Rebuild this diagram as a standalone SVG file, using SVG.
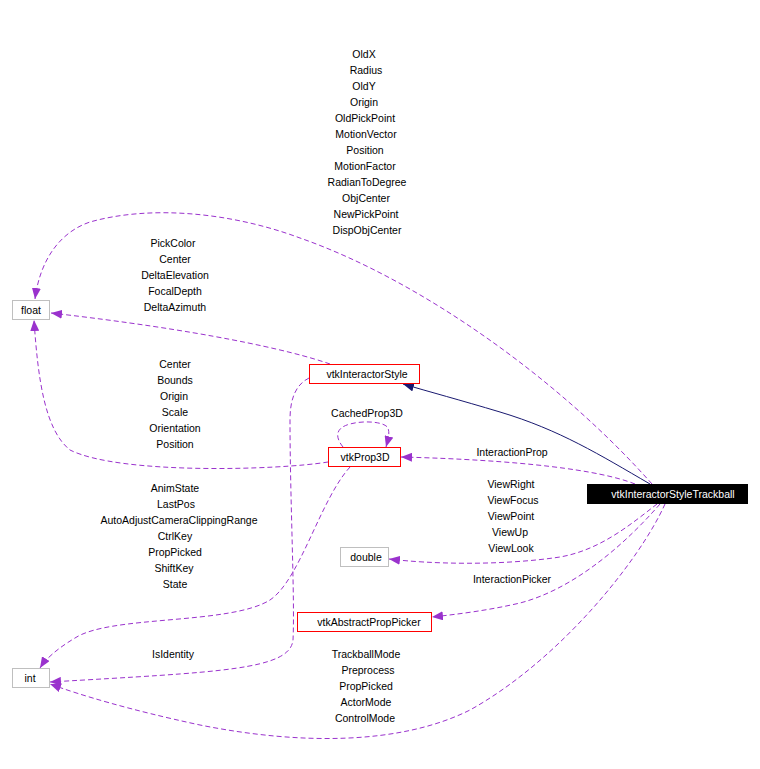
<svg xmlns="http://www.w3.org/2000/svg" width="760" height="769" viewBox="0 0 760 769">
<style>
text{font-family:"Liberation Sans",Arial,sans-serif;font-size:10.5px;fill:#000;text-anchor:middle}
.e{fill:none;stroke:#9a32cd;stroke-width:1;stroke-dasharray:5,3}
.inh{fill:none;stroke:#191970;stroke-width:1}
.red{fill:#fff;stroke:#ff0000;stroke-width:1}
.gray{fill:#fff;stroke:#bfbfbf;stroke-width:1}
.blk{fill:#000;stroke:#000}
.wt{fill:#fff}
</style>
<defs>
<marker id="ap" viewBox="0 0 11 9" refX="11" refY="4.5" markerWidth="11" markerHeight="9" markerUnits="userSpaceOnUse" orient="auto"><path d="M0,0 L11,4.5 L0,9 z" fill="#9a32cd"/></marker>
<marker id="ab" viewBox="0 0 11 9" refX="11" refY="4.5" markerWidth="11" markerHeight="9" markerUnits="userSpaceOnUse" orient="auto"><path d="M0,0 L11,4.5 L0,9 z" fill="#191970"/></marker>
</defs>
<g id="edges">
<path class="e" marker-end="url(#ap)" d="M652,484 C560,380 420,280 300,238 C230,212 150,205 90,222 C60,232 40,260 35,299"/>
<path class="e" marker-end="url(#ap)" d="M330,364 C290,350 200,330 51,313"/>
<path class="e" marker-end="url(#ap)" d="M328,462 C280,470 120,475 70,450 C45,430 38,380 34,320"/>
<path class="e" marker-end="url(#ap)" d="M343,447 C335,437 335,428 350,424 C365,420 385,422 388,428 C390,434 388,440 386,447"/>
<path class="e" marker-end="url(#ap)" d="M635,484 C600,470 520,460 401,457"/>
<path class="inh" marker-end="url(#ab)" d="M650,484 C600,455 560,430 500,412 C460,400 430,392 403,384"/>
<path class="e" marker-end="url(#ap)" d="M657,504 C630,525 600,550 560,557 C500,566 430,564 389,559"/>
<path class="e" marker-end="url(#ap)" d="M660,504 C620,550 570,590 520,603 C490,610 460,614 432,617"/>
<path class="e" marker-end="url(#ap)" d="M665,504 C640,560 560,660 470,710 C400,745 300,745 200,725 C130,710 80,695 50,684"/>
<path class="e" marker-end="url(#ap)" d="M350,467 C320,500 300,580 270,600 C230,625 110,615 75,638 C55,650 45,660 40,668"/>
<path class="e" marker-end="url(#ap)" d="M309,378 C295,385 290,400 290,420 C290,500 295,600 293,640 C290,670 220,672 50,682"/>
</g>
<g id="labels">
<text x="364" y="58">OldX</text>
<text x="366" y="74">Radius</text>
<text x="364" y="90">OldY</text>
<text x="364" y="106">Origin</text>
<text x="365" y="122">OldPickPoint</text>
<text x="366" y="138">MotionVector</text>
<text x="365" y="154">Position</text>
<text x="365" y="170">MotionFactor</text>
<text x="367" y="186">RadianToDegree</text>
<text x="366" y="202">ObjCenter</text>
<text x="366" y="218">NewPickPoint</text>
<text x="367" y="234">DispObjCenter</text>
<text x="173" y="247">PickColor</text>
<text x="175" y="263">Center</text>
<text x="175" y="279">DeltaElevation</text>
<text x="175" y="295">FocalDepth</text>
<text x="175" y="311">DeltaAzimuth</text>
<text x="175" y="368">Center</text>
<text x="175" y="384">Bounds</text>
<text x="174" y="400">Origin</text>
<text x="175" y="416">Scale</text>
<text x="175" y="432">Orientation</text>
<text x="175" y="448">Position</text>
<text x="367" y="417">CachedProp3D</text>
<text x="512" y="456">InteractionProp</text>
<text x="175" y="492">AnimState</text>
<text x="176" y="508">LastPos</text>
<text x="179" y="524">AutoAdjustCameraClippingRange</text>
<text x="175" y="540">CtrlKey</text>
<text x="175" y="556">PropPicked</text>
<text x="174" y="572">ShiftKey</text>
<text x="175" y="588">State</text>
<text x="511" y="488">ViewRight</text>
<text x="513" y="504">ViewFocus</text>
<text x="511" y="520">ViewPoint</text>
<text x="510" y="536">ViewUp</text>
<text x="511" y="552">ViewLook</text>
<text x="512" y="583">InteractionPicker</text>
<text x="173" y="658">IsIdentity</text>
<text x="366" y="658">TrackballMode</text>
<text x="368" y="674">Preprocess</text>
<text x="366" y="690">PropPicked</text>
<text x="366" y="706">ActorMode</text>
<text x="365" y="722">ControlMode</text>
</g>
<g id="node-float"><rect class="gray" x="12.5" y="300.5" width="37" height="19"/><text x="31" y="314">float</text></g>
<g id="node-int"><rect class="gray" x="12.5" y="668.5" width="37" height="19"/><text x="30" y="682">int</text></g>
<g id="node-double"><rect class="gray" x="340.5" y="547.5" width="48" height="19"/><text x="366" y="561">double</text></g>
<g id="node-vtkInteractorStyle"><rect class="red" x="309.5" y="364.5" width="110" height="19"/><text x="367" y="378">vtkInteractorStyle</text></g>
<g id="node-vtkProp3D"><rect class="red" x="328.5" y="447.5" width="72" height="19"/><text x="365" y="461">vtkProp3D</text></g>
<g id="node-vtkAbstractPropPicker"><rect class="red" x="297.5" y="612.5" width="134" height="19"/><text x="369" y="626">vtkAbstractPropPicker</text></g>
<g id="node-vtkInteractorStyleTrackball"><rect class="blk" x="587.5" y="484.5" width="160" height="19"/><text class="wt" x="673" y="498">vtkInteractorStyleTrackball</text></g>
</svg>
